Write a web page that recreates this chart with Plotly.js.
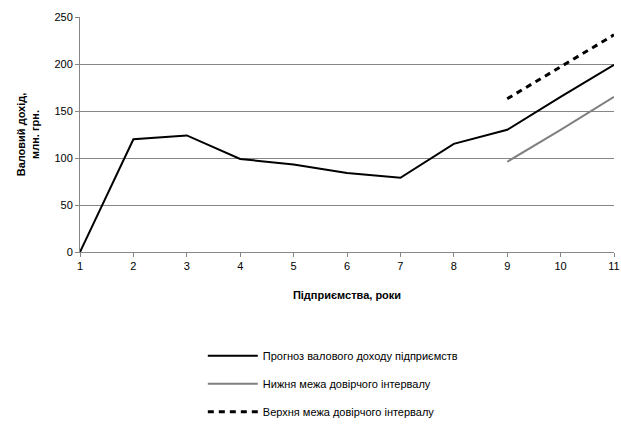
<!DOCTYPE html>
<html><head><meta charset="utf-8">
<script src="https://cdn.plot.ly/plotly-3.0.1.min.js"></script>
<style>body{margin:0}</style></head><body>
<div id="c" style="width:621px;height:426px"></div>
<script>
const years = [1,2,3,4,5,6,7,8,9,10,11];
const forecast = [0,120,124,99,93,84,79,115,130,165,199];
const ciYears = [9,10,11];
const lower = [96,130,165];
const upper = [163,197,231];
const names = ["Прогноз валового доходу підприємств","Нижня межа довірчого інтервалу","Верхня межа довірчого інтервалу"];
const F = "Liberation Sans, Arial, sans-serif";
const data = [
 {x:years,y:forecast,mode:"lines",name:names[0],line:{color:"#000",width:2},legendgroup:"a"},
 {x:ciYears,y:lower,mode:"lines",name:names[1],line:{color:"#808080",width:2},legendgroup:"b"},
 {x:ciYears,y:upper,mode:"lines",name:names[2],line:{color:"#000",width:3,dash:"6px,5px"},legendgroup:"c"}
];
const layout = {
 width:621,height:426,margin:{l:80,r:7,t:17,b:174,autoexpand:false},
 paper_bgcolor:"#fff",plot_bgcolor:"#fff",font:{family:F,size:11,color:"#000"},
 xaxis:{range:[1,11],tickvals:years,showgrid:false,zeroline:false,showline:true,linecolor:"#868686",ticks:"outside",ticklen:4,tickcolor:"#868686",
  title:{text:"<b>Підприємства, роки</b>",font:{size:11},standoff:20}},
 yaxis:{range:[0,250],dtick:50,showgrid:true,gridcolor:"#868686",gridwidth:1,zeroline:false,showline:true,linecolor:"#868686",ticks:"outside",ticklen:4,tickcolor:"#868686",
  title:{text:"<b>Валовий дохід,<br>млн. грн.</b>",font:{size:11},standoff:12}},
 showlegend:true,
 legend:{x:0.23,y:-0.38,xanchor:"left",yanchor:"top",traceorder:"grouped",tracegroupgap:9,itemwidth:50,font:{size:11}}
};
Plotly.newPlot("c",data,layout,{displayModeBar:false});
</script></body></html>
